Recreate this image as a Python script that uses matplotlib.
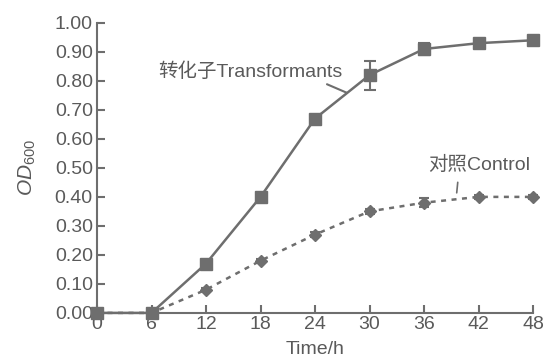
import matplotlib.pyplot as plt

plt.rcParams['font.family'] = ['Liberation Sans', 'Noto Sans CJK SC']
plt.rcParams['mathtext.fontset'] = 'custom'
plt.rcParams['mathtext.it'] = 'Liberation Sans:italic'
plt.rcParams['mathtext.rm'] = 'Liberation Sans'

hours = [0, 6, 12, 18, 24, 30, 36, 42, 48]
transformants = [0.0, 0.0, 0.17, 0.40, 0.67, 0.82, 0.91, 0.93, 0.94]
trans_err = [0.0, 0.0, 0.01, 0.01, 0.01, 0.05, 0.02, 0.005, 0.015]
control = [0.0, 0.0, 0.08, 0.18, 0.27, 0.35, 0.38, 0.40, 0.40]
control_err = [0.0, 0.0, 0.005, 0.005, 0.008, 0.008, 0.015, 0.008, 0.008]
yticks = [0.0, 0.1, 0.2, 0.3, 0.4, 0.5, 0.6, 0.7, 0.8, 0.9, 1.0]

gray = '#6e6e6e'
txt = '#5a5a5a'

fig = plt.figure(figsize=(5.45, 3.63), dpi=100)
ax = fig.add_axes([0.178, 0.138, 0.80, 0.799])

ax.errorbar(hours, control, yerr=control_err, color=gray, lw=1.8, ls=(0, (2, 2.2)),
            marker='D', ms=6, capsize=3.5, elinewidth=1.5, capthick=1.5, zorder=2)
ax.errorbar(hours, transformants, yerr=trans_err, color=gray, lw=1.8, ls='-',
            marker='s', ms=8.5, capsize=4, elinewidth=1.5, capthick=1.5, zorder=3)

ax.set_xlim(0, 48)
ax.set_ylim(0, 1.0)
ax.set_xticks(hours)
ax.set_yticks(yticks)
ax.set_yticklabels([f'{v:.2f}' for v in yticks])
for s in ['top', 'right']:
    ax.spines[s].set_visible(False)
for s in ['left', 'bottom']:
    ax.spines[s].set_color(gray)
    ax.spines[s].set_linewidth(1.5)
ax.tick_params(direction='in', length=6, width=1.5, color=gray,
               labelsize=14, labelcolor=txt, pad=3)
ax.tick_params(axis='x', pad=2)

ax.set_xlabel('Time/h', fontsize=14, color=txt, labelpad=6)
ax.set_ylabel(r'$\mathit{OD}_{600}$', fontsize=15, color=txt, labelpad=12)

ax.annotate('转化子Transformants', xy=(27.5, 0.759), xytext=(16.9, 0.83),
            ha='center', va='center', fontsize=14, color=txt,
            arrowprops=dict(arrowstyle='-', color=gray, lw=1.5,
                            shrinkA=0, shrinkB=0, relpos=(0.88, 0.0)))
ax.annotate('对照Control', xy=(39.6, 0.414), xytext=(42.05, 0.51),
            ha='center', va='center', fontsize=14, color=txt,
            arrowprops=dict(arrowstyle='-', color=gray, lw=1.2,
                            shrinkA=4, shrinkB=0, relpos=(0.3, 0.0)))

for m in ax.get_children():
    try:
        m.set_clip_on(False)
    except Exception:
        pass

fig.savefig('out.png', dpi=100)
